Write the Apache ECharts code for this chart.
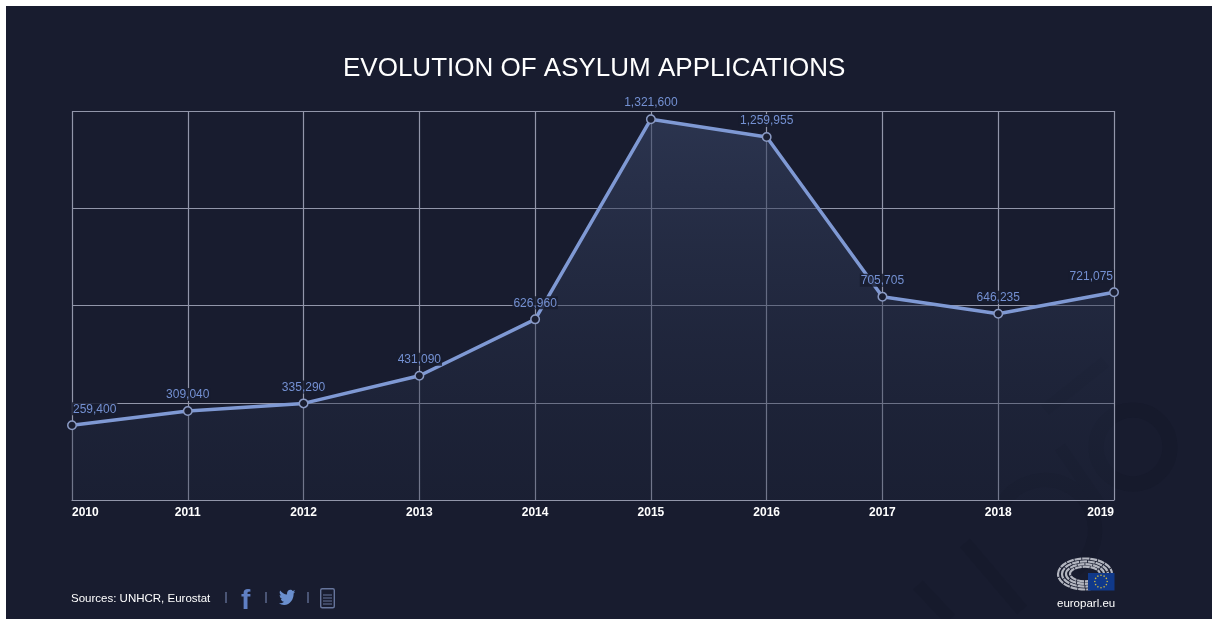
<!DOCTYPE html>
<html>
<head>
<meta charset="utf-8">
<style>html,body{margin:0;padding:0;background:#fff}#c{width:1212px;height:619px}</style>
<script src="https://cdn.jsdelivr.net/npm/echarts@6/dist/echarts.min.js"></script>
</head>
<body>
<div id="c"></div>
<script>
const years = ['2010','2011','2012','2013','2014','2015','2016','2017','2018','2019'];
const applications = [259400,309040,335290,431090,626960,1321600,1259955,705705,646235,721075];
const titleText = 'EVOLUTION OF ASYLUM APPLICATIONS';
const sourceText = 'Sources: UNHCR, Eurostat';
const logoText = 'europarl.eu';

const BG = '#181c2f', MARK = '#161a2c', GRID = '#9296aa', LINE = '#7f99d4', LABEL = '#7490d2';
echarts.graphic.registerShape('bird', echarts.graphic.extendPath('M24 4.6c-.9.4-1.8.7-2.8.8 1-.6 1.8-1.5 2.2-2.7-.9.6-2 1-3.1 1.2C19.4 2.9 18.1 2.3 16.7 2.3c-2.7 0-4.9 2.2-4.9 4.9 0 .4 0 .8.1 1.1C7.8 8.1 4.2 6.1 1.7 3.1c-.4.7-.7 1.6-.7 2.5 0 1.7.9 3.2 2.2 4.1-.8 0-1.6-.2-2.2-.6v.1c0 2.4 1.700 4.400 3.900 4.800-.4.100-.8.200-1.300.2-.3 0-.6 0-.9-.1.6 2 2.400 3.400 4.600 3.400-1.700 1.300-3.800 2.100-6.100 2.100-.4 0-.8 0-1.200-.1 2.200 1.400 4.800 2.200 7.500 2.200 9.100 0 14-7.500 14-14v-.6c1-.7 1.800-1.600 2.400-2.500z', {}));
const chart = echarts.init(document.getElementById('c'), null, {renderer:'canvas'});
const fmt = v => v.toLocaleString('en-US');

const watermark = [
  {type:'circle', z:-5, shape:{cx:1133,cy:447,r:37}, style:{fill:'none',stroke:MARK,lineWidth:15}},
  {type:'arc', z:-5, shape:{cx:1045,cy:530,r:50,startAngle:-2.6,endAngle:0.9}, style:{fill:'none',stroke:MARK,lineWidth:14}},
  {type:'line', z:-5, shape:{x1:1060,y1:447,x2:1100,y2:505}, style:{stroke:MARK,lineWidth:12}},
  {type:'line', z:-5, shape:{x1:965,y1:543,x2:1022,y2:610}, style:{stroke:MARK,lineWidth:13}},
  {type:'line', z:-5, shape:{x1:918,y1:585,x2:950,y2:619}, style:{stroke:MARK,lineWidth:13}},
  {type:'line', z:-5, shape:{x1:1045,y1:410,x2:1105,y2:362}, style:{stroke:MARK,lineWidth:12}}
];

const sep = x => ({type:'line', z:5, shape:{x1:x,y1:592,x2:x,y2:603}, style:{stroke:'#66759c',lineWidth:1.3}});

const flagStars = [];
for (let i = 0; i < 12; i++) {
  const a = i * Math.PI / 6;
  flagStars.push({type:'circle', z:7, shape:{cx:1101+6.2*Math.cos(a),cy:581.5+6.2*Math.sin(a),r:0.8}, style:{fill:'#c9b545'}});
}

const chartOption = {
  animation:false,
  backgroundColor:'#fff',
  title:{text:titleText,left:343,top:56,padding:0,
    textStyle:{color:'#fff',fontFamily:'Liberation Sans',fontSize:26,fontWeight:'normal'}},
  grid:{left:72,right:98,top:111,bottom:119,containLabel:false},
  xAxis:{type:'category',boundaryGap:false,data:years,
    axisTick:{show:false},
    axisLine:{show:true,lineStyle:{color:GRID,width:1.2}},
    axisLabel:{color:'#fff',fontFamily:'Liberation Sans',fontSize:12,fontWeight:'bold',margin:7,
      alignMinLabel:'left',alignMaxLabel:'right',interval:0},
    splitLine:{show:true,lineStyle:{color:GRID,width:1.2}}},
  yAxis:{type:'value',min:0,max:1350000,interval:337500,
    axisLine:{show:false},axisTick:{show:false},axisLabel:{show:false},
    splitLine:{show:true,lineStyle:{color:GRID,width:1.2}}},
  series:[{
    type:'line',clip:false,
    data:applications.map((v,i)=>({value:v,label:{align:i===0?'left':(i===applications.length-1?'right':'center')}})),
    symbol:'circle',symbolSize:8.5,showAllSymbol:true,
    lineStyle:{color:LINE,width:3.5},
    itemStyle:{color:'#1a1e31',borderColor:'#8a9ac4',borderWidth:1.5},
    areaStyle:{color:new echarts.graphic.LinearGradient(0,0,0,1,[
      {offset:0,color:'rgba(56,68,100,0.85)'},{offset:1,color:'rgba(32,40,62,0.4)'}])},
    label:{show:true,position:'top',distance:5,color:LABEL,fontFamily:'Liberation Sans',fontSize:12,
      backgroundColor:'rgba(24,28,47,0.85)',padding:[1,1,0,1],formatter:p=>fmt(p.value)},
    z:3
  }],
  graphic:{elements:[
    {type:'rect',z:-10,shape:{x:6,y:6,width:1206,height:613},style:{fill:BG}},
    ...watermark,
    {type:'text',z:5,x:71,y:593,style:{text:sourceText,fill:'#fff',font:'11.5px "Liberation Sans"'}},
    sep(226),sep(266),sep(308),
    {type:'text',z:5,x:241,y:587,style:{text:'f',fill:'#5f7fc4',font:'bold 28px "Liberation Sans"'}},
    {type:'bird',z:5,x:279,y:588,scaleX:0.68,scaleY:0.78,style:{fill:'#6a8fce'}},
    {type:'rect',z:5,shape:{x:320.7,y:588.7,width:13.6,height:19,r:1.5},style:{fill:'none',stroke:'#66759c',lineWidth:1.4}},
    {type:'line',z:5,shape:{x1:323,y1:595,x2:332,y2:595},style:{stroke:'#66759c',lineWidth:1}},
    {type:'line',z:5,shape:{x1:323,y1:598,x2:332,y2:598},style:{stroke:'#66759c',lineWidth:1}},
    {type:'line',z:5,shape:{x1:323,y1:601,x2:332,y2:601},style:{stroke:'#66759c',lineWidth:1}},
    {type:'line',z:5,shape:{x1:323,y1:604,x2:332,y2:604},style:{stroke:'#66759c',lineWidth:1}},
    ...[[27,15.5],[23,12.6],[19,9.8],[15,7.3]].map(r=>({type:'ellipse',z:6,shape:{cx:1085,cy:574,rx:r[0],ry:r[1]},
      style:{fill:'none',stroke:'#b2b5bf',lineWidth:2.2,lineDash:[7,0.8]}})),
    {type:'rect',z:7,shape:{x:1088,y:573,width:26.5,height:17.5},style:{fill:'#10398a'}},
    ...flagStars,
    {type:'text',z:5,x:1057,y:598,style:{text:logoText,fill:'#fff',font:'11.5px "Liberation Sans"'}}
  ]}
};
chart.setOption(chartOption);
</script>
</body>
</html>
